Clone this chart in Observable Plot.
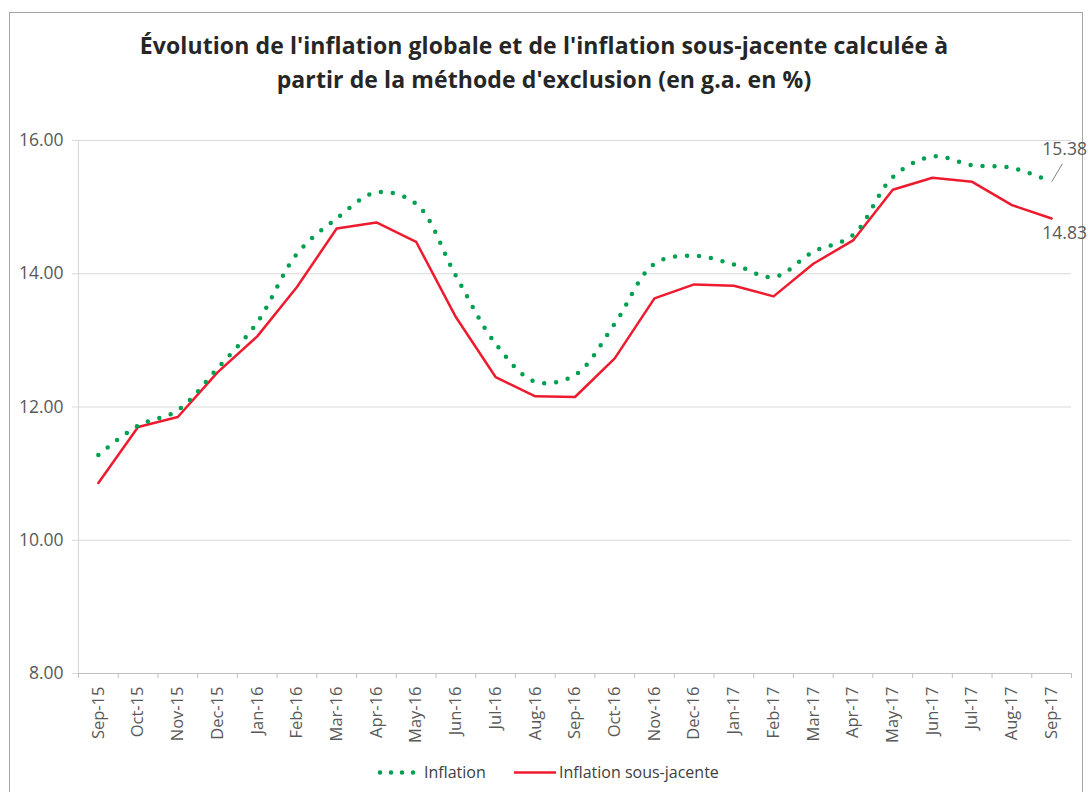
<!DOCTYPE html>
<html>
<head>
<meta charset="utf-8">
<script src="https://cdn.jsdelivr.net/npm/d3@7"></script>
<script src="https://cdn.jsdelivr.net/npm/@observablehq/plot@0.6"></script>
<style>
  html, body { margin: 0; padding: 0; background: #fff; }
  body { width: 1088px; height: 792px; position: relative; overflow: hidden; font-family: "Open Sans", sans-serif; }
  #frame { position: absolute; left: 9px; top: 12px; width: 1074px; height: 800px; border: 1px solid #a6a6a6; box-sizing: border-box; }
  #title { position: absolute; left: 0; top: 28px; width: 1088px; text-align: center; font-weight: 700; font-size: 23px; line-height: 34px; color: #262626; letter-spacing: 0.1px; }
  #chart { position: absolute; left: 0; top: 100px; }
  #legend { position: absolute; left: 0; top: 760px; width: 1088px; height: 26px; }
  #legend span { position: absolute; top: 0; font-size: 16px; line-height: 24px; color: #404040; }
</style>
</head>
<body>
<div id="frame"></div>
<div id="title">Évolution de l'inflation globale et de l'inflation sous-jacente calculée à<br>partir de la méthode d'exclusion (en g.a. en %)</div>
<div id="chart"></div>
<div id="legend">
  <svg width="1088" height="26" style="position:absolute;left:0;top:0">
    <line x1="380" x2="420" y1="12.5" y2="12.5" stroke="#00a050" stroke-width="4.5" stroke-dasharray="0 11" stroke-linecap="round"/>
    <line x1="514" x2="556" y1="12.5" y2="12.5" stroke="#ee1b2e" stroke-width="2.5"/>
  </svg>
  <span style="left:424px">Inflation</span>
  <span style="left:559px">Inflation sous-jacente</span>
</div>
<script>
const months = ["Sep-15","Oct-15","Nov-15","Dec-15","Jan-16","Feb-16","Mar-16","Apr-16","May-16","Jun-16","Jul-16","Aug-16","Sep-16","Oct-16","Nov-16","Dec-16","Jan-17","Feb-17","Mar-17","Apr-17","May-17","Jun-17","Jul-17","Aug-17","Sep-17"];
const inflation = [11.28,11.72,11.95,12.58,13.27,14.30,14.83,15.22,15.05,13.97,12.95,12.38,12.48,13.25,14.15,14.27,14.14,13.95,14.33,14.58,15.45,15.76,15.63,15.59,15.38];
const sousJacente = [10.86,11.70,11.85,12.52,13.06,13.80,14.68,14.77,14.48,13.35,12.45,12.16,12.15,12.73,13.63,13.84,13.82,13.66,14.15,14.50,15.26,15.44,15.38,15.03,14.83];
const yTicks = [8, 10, 12, 14, 16];

const green = "#00a050";
const red = "#ee1b2e";

const infl = months.map((m, i) => ({i, m, v: inflation[i]}));
const sj = months.map((m, i) => ({i, m, v: sousJacente[i]}));
const lastI = infl[infl.length - 1];
const lastS = sj[sj.length - 1];
const boundaries = d3.range(months.length + 1).map(i => i - 0.5);

const chart = Plot.plot({
  width: 1088,
  height: 660,
  marginTop: 40,
  marginBottom: 87,
  marginLeft: 78,
  marginRight: 17,
  style: {fontFamily: "Open Sans, sans-serif", background: "transparent"},
  x: {type: "linear", domain: [-0.5, months.length - 0.5], axis: null, label: null},
  y: {domain: [8, 16], axis: null, label: null},
  marks: [
    Plot.ruleY(yTicks.slice(1), {stroke: "#d9d9d9", strokeWidth: 1.2}),
    Plot.axisY({ticks: yTicks, tickFormat: d3.format(".2f"), tickSize: 6, tickPadding: 9, stroke: "#d9d9d9", fill: "#595959", fontSize: 17.5, label: null}),
    Plot.ruleX([-0.5], {stroke: "#d9d9d9", strokeWidth: 1.2}),
    Plot.ruleY([8], {stroke: "#bfbfbf", strokeWidth: 1.2}),
    Plot.axisX({ticks: boundaries, tickFormat: () => "", tickSize: 5, stroke: "#bfbfbf", label: null}),
    Plot.axisX({ticks: d3.range(months.length), tickFormat: i => months[i], tickRotate: -90, tickSize: 0, tickPadding: 13, fill: "#595959", fontSize: 16.5, label: null}),
    Plot.line(sj, {x: "i", y: "v", stroke: red, strokeWidth: 2.5}),
    Plot.line(infl, {x: "i", y: "v", curve: "catmull-rom", stroke: green, strokeWidth: 4.5, strokeDasharray: "0 12", strokeLinecap: "round"}),
    Plot.link([lastI], {x1: "i", y1: "v", x2: d => d.i + 0.27, y2: d => d.v + 0.27, stroke: "#808080", strokeWidth: 1}),
    Plot.text([lastI], {x: "i", y: "v", text: d => d.v.toFixed(2), dx: 13, dy: -32, fill: "#595959", fontSize: 17.5}),
    Plot.text([lastS], {x: "i", y: "v", text: d => d.v.toFixed(2), dx: 13, dy: 15, fill: "#595959", fontSize: 17.5})
  ]
});
document.getElementById("chart").appendChild(chart);
</script>
</body>
</html>
